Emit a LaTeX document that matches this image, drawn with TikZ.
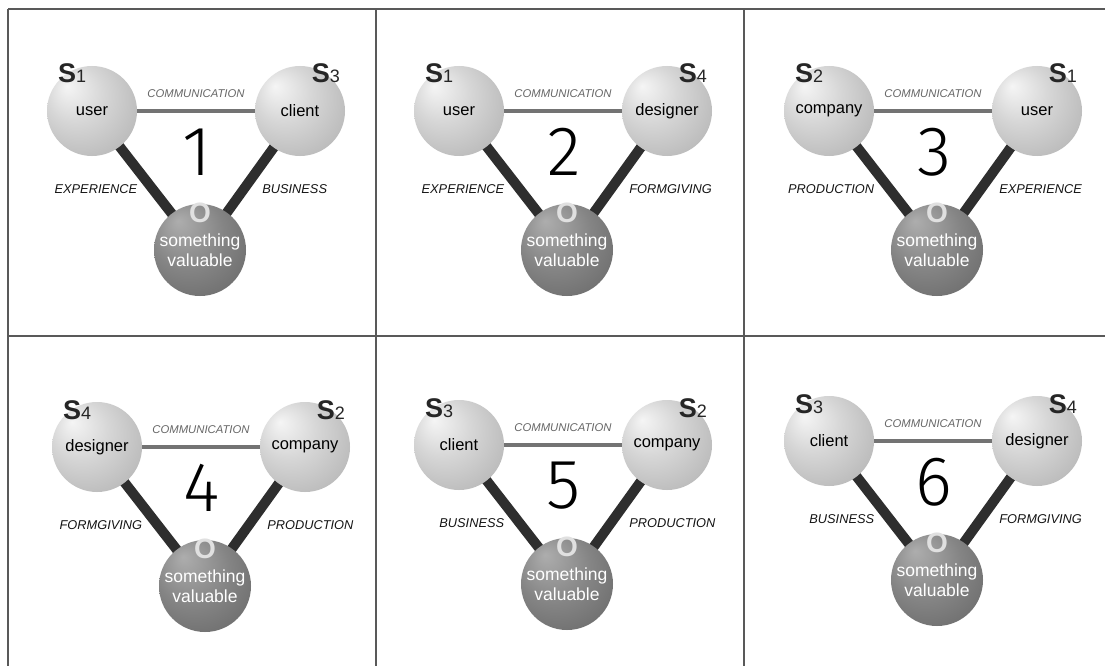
\documentclass[tikz,border=0pt]{standalone}
\usepackage{fontspec}
\setmainfont{Liberation Sans}
\newfontfamily\numfont{Fira Sans Light}
\usetikzlibrary{backgrounds}

% sphere shadings, lit from the upper left
\pgfdeclareradialshading{subjshade}{\pgfpoint{-14bp}{14bp}}{%
  color(0bp)=(black!4); color(16bp)=(black!16); color(38bp)=(black!30); color(50bp)=(black!48)}
\pgfdeclareradialshading{objshade}{\pgfpoint{-12bp}{16bp}}{%
  color(0bp)=(black!32); color(20bp)=(black!48); color(40bp)=(black!60); color(50bp)=(black!74)}

\begin{document}
\begin{tikzpicture}[x=1pt, y=-1pt,
    subj/.style={circle, minimum size=90pt, inner sep=0pt, shading=subjshade, font=\fontsize{16.5}{18}\selectfont, text=black},
    obj/.style={circle, minimum size=92pt, inner sep=0pt, shading=objshade, align=center, font=\fontsize{17.5}{20}\selectfont, text=white},
    otag/.style={font=\fontsize{28}{28}\selectfont\bfseries, text=white!88!black, yshift=-9pt},
    stag/.style={inner sep=0pt, font=\fontsize{27}{27}\selectfont\bfseries, text=black!85},
    comm/.style={line width=4pt, black!55},
    bond/.style={line width=10pt, black!82},
    commlbl/.style={font=\fontsize{11.3}{11.3}\selectfont\itshape, text=black!60},
    bondlbl/.style={font=\fontsize{12.8}{12.8}\selectfont\itshape, text=black!92},
    num/.style={font=\numfont\fontsize{70}{70}\selectfont},
    grid/.style={line width=1.5pt, black!65}
]
    \useasboundingbox (0,0) rectangle (1105,666);
    \begin{scope}[on background layer]
        \fill[white] (0,0) rectangle (1105,666);
    \end{scope}

    % Frame
    \draw[grid] (8,9) -- (1105,9);
    \draw[grid] (8,336) -- (1105,336);
    \draw[grid] (8,9) -- (8,666);
    \draw[grid] (376,9) -- (376,666);
    \draw[grid] (744,9) -- (744,666);

    % Panel 1
    \begin{scope}[shift={(200,0)}]
        \node (left1) [subj] at (-108,111) {user};
        \node (right1) [subj] at (100,111) {client};
        \node (obj1) [obj] at (0,250) {something\\valuable};
        \node (otag1) [otag] at (obj1.north) {O};
        \node (sleft1) [stag, anchor=base west] at (-142,83) {S{\mdseries\fontsize{18}{18}\selectfont 1}};
        \node (sright1) [stag, anchor=base east] at (140,83) {S{\mdseries\fontsize{18}{18}\selectfont 3}};
        \node (num1) [num] at (-3,152) {1};
        \begin{scope}[on background layer]
            \draw[comm] (left1.center) -- node[commlbl, above=8pt] {COMMUNICATION} (right1.center);
            \draw[bond] (left1.center) -- node[bondlbl, pos=0.56, left=7pt] {EXPERIENCE} (obj1.center);
            \draw[bond] (right1.center) -- node[bondlbl, pos=0.56, right=10pt] {BUSINESS} (obj1.center);
        \end{scope}
    \end{scope}

    % Panel 2
    \begin{scope}[shift={(567,0)}]
        \node (left2) [subj] at (-108,111) {user};
        \node (right2) [subj] at (100,111) {designer};
        \node (obj2) [obj] at (0,250) {something\\valuable};
        \node (otag2) [otag] at (obj2.north) {O};
        \node (sleft2) [stag, anchor=base west] at (-142,83) {S{\mdseries\fontsize{18}{18}\selectfont 1}};
        \node (sright2) [stag, anchor=base east] at (140,83) {S{\mdseries\fontsize{18}{18}\selectfont 4}};
        \node (num2) [num] at (-3,152) {2};
        \begin{scope}[on background layer]
            \draw[comm] (left2.center) -- node[commlbl, above=8pt] {COMMUNICATION} (right2.center);
            \draw[bond] (left2.center) -- node[bondlbl, pos=0.56, left=7pt] {EXPERIENCE} (obj2.center);
            \draw[bond] (right2.center) -- node[bondlbl, pos=0.56, right=10pt] {FORMGIVING} (obj2.center);
        \end{scope}
    \end{scope}

    % Panel 3
    \begin{scope}[shift={(937,0)}]
        \node (left3) [subj] at (-108,111) {company};
        \node (right3) [subj] at (100,111) {user};
        \node (obj3) [obj] at (0,250) {something\\valuable};
        \node (otag3) [otag] at (obj3.north) {O};
        \node (sleft3) [stag, anchor=base west] at (-142,83) {S{\mdseries\fontsize{18}{18}\selectfont 2}};
        \node (sright3) [stag, anchor=base east] at (140,83) {S{\mdseries\fontsize{18}{18}\selectfont 1}};
        \node (num3) [num] at (-3,152) {3};
        \begin{scope}[on background layer]
            \draw[comm] (left3.center) -- node[commlbl, above=8pt] {COMMUNICATION} (right3.center);
            \draw[bond] (left3.center) -- node[bondlbl, pos=0.56, left=7pt] {PRODUCTION} (obj3.center);
            \draw[bond] (right3.center) -- node[bondlbl, pos=0.56, right=10pt] {EXPERIENCE} (obj3.center);
        \end{scope}
    \end{scope}

    % Panel 4
    \begin{scope}[shift={(205,336)}]
        \node (left4) [subj] at (-108,111) {designer};
        \node (right4) [subj] at (100,111) {company};
        \node (obj4) [obj] at (0,250) {something\\valuable};
        \node (otag4) [otag] at (obj4.north) {O};
        \node (sleft4) [stag, anchor=base west] at (-142,83) {S{\mdseries\fontsize{18}{18}\selectfont 4}};
        \node (sright4) [stag, anchor=base east] at (140,83) {S{\mdseries\fontsize{18}{18}\selectfont 2}};
        \node (num4) [num] at (-3,152) {4};
        \begin{scope}[on background layer]
            \draw[comm] (left4.center) -- node[commlbl, above=8pt] {COMMUNICATION} (right4.center);
            \draw[bond] (left4.center) -- node[bondlbl, pos=0.56, left=7pt] {FORMGIVING} (obj4.center);
            \draw[bond] (right4.center) -- node[bondlbl, pos=0.56, right=10pt] {PRODUCTION} (obj4.center);
        \end{scope}
    \end{scope}

    % Panel 5
    \begin{scope}[shift={(567,334)}]
        \node (left5) [subj] at (-108,111) {client};
        \node (right5) [subj] at (100,111) {company};
        \node (obj5) [obj] at (0,250) {something\\valuable};
        \node (otag5) [otag] at (obj5.north) {O};
        \node (sleft5) [stag, anchor=base west] at (-142,83) {S{\mdseries\fontsize{18}{18}\selectfont 3}};
        \node (sright5) [stag, anchor=base east] at (140,83) {S{\mdseries\fontsize{18}{18}\selectfont 2}};
        \node (num5) [num] at (-3,152) {5};
        \begin{scope}[on background layer]
            \draw[comm] (left5.center) -- node[commlbl, above=8pt] {COMMUNICATION} (right5.center);
            \draw[bond] (left5.center) -- node[bondlbl, pos=0.56, left=7pt] {BUSINESS} (obj5.center);
            \draw[bond] (right5.center) -- node[bondlbl, pos=0.56, right=10pt] {PRODUCTION} (obj5.center);
        \end{scope}
    \end{scope}

    % Panel 6
    \begin{scope}[shift={(937,330)}]
        \node (left6) [subj] at (-108,111) {client};
        \node (right6) [subj] at (100,111) {designer};
        \node (obj6) [obj] at (0,250) {something\\valuable};
        \node (otag6) [otag] at (obj6.north) {O};
        \node (sleft6) [stag, anchor=base west] at (-142,83) {S{\mdseries\fontsize{18}{18}\selectfont 3}};
        \node (sright6) [stag, anchor=base east] at (140,83) {S{\mdseries\fontsize{18}{18}\selectfont 4}};
        \node (num6) [num] at (-3,152) {6};
        \begin{scope}[on background layer]
            \draw[comm] (left6.center) -- node[commlbl, above=8pt] {COMMUNICATION} (right6.center);
            \draw[bond] (left6.center) -- node[bondlbl, pos=0.56, left=7pt] {BUSINESS} (obj6.center);
            \draw[bond] (right6.center) -- node[bondlbl, pos=0.56, right=10pt] {FORMGIVING} (obj6.center);
        \end{scope}
    \end{scope}

\end{tikzpicture}
\end{document}
